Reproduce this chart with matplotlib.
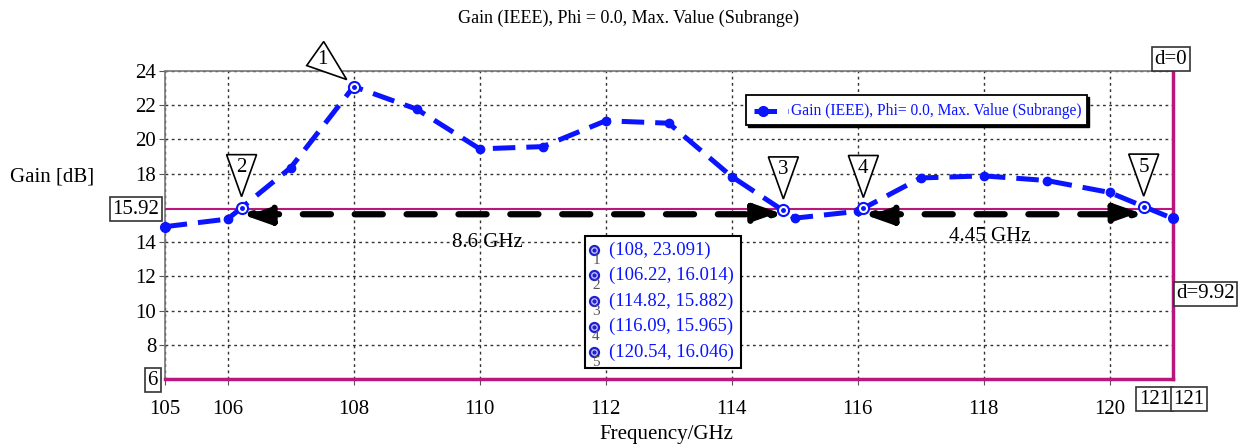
import matplotlib
matplotlib.use('Agg')
import matplotlib.pyplot as plt
from matplotlib.patches import Polygon, Rectangle
from matplotlib.transforms import ScaledTranslation, offset_copy

# ---------------- data ----------------
freq = [105, 106, 107, 108, 109, 110, 111, 112, 113, 114, 115, 116, 117, 118, 119, 120, 121]
gain = [14.9, 15.35, 18.35, 23.091, 21.77, 19.45, 19.58, 21.09, 20.95, 17.83, 15.4, 15.8,
        17.75, 17.87, 17.6, 16.9, 15.38]
marker_ids = ['1', '2', '3', '4', '5']
marker_x = [108, 106.22, 114.82, 116.09, 120.54]
marker_y = [23.091, 16.014, 15.882, 15.965, 16.046]
marker_txt = ['(108, 23.091)', '(106.22, 16.014)', '(114.82, 15.882)',
              '(116.09, 15.965)', '(120.54, 16.046)']
ref_level = 15.92
y_min_line = 6
x_end = 121
xticks = [105, 106, 108, 110, 112, 114, 116, 118, 120]
yticks = [8, 10, 12, 14, 18, 20, 22, 24]
bw_spans = [(106.22, 114.82, '8.6 GHz', 110.12, 14.0), (116.09, 120.54, '4.45 GHz', 118.1, 14.35)]

SERIF = ['Liberation Serif', 'DejaVu Serif']
plt.rcParams['font.family'] = SERIF
MAG = '#b8177c'
BLUE = '#0a14ff'
W, H = 1252, 448

fig = plt.figure(figsize=(W / 100, H / 100), dpi=100)
ax = fig.add_axes([164.7 / W, 1 - 379 / H, (1172.7 - 164.7) / W, (379 - 71) / H])
ax.set_xlim(105, 121)
ax.set_ylim(6, 24)

def fx(px):
    return px / W

def fy(py):
    return 1 - py / H

# grid
ax.set_xticks(xticks)
ax.set_yticks(yticks)
ax.set_xticklabels([str(t) for t in xticks], fontsize=15)
ax.set_yticklabels([str(t) for t in yticks], fontsize=15)
ax.grid(True, linestyle=(0, (2, 2.5)), color='#333333', linewidth=1.0)
ax.tick_params(length=4, color='#555555', pad=2)
ax.tick_params(axis='x', pad=11)
for s in ['top', 'left']:
    ax.spines[s].set_color('#777777')
    ax.spines[s].set_linewidth(1.2)
ax.spines['right'].set_visible(False)
ax.spines['bottom'].set_visible(False)

# reference lines
ax.axhline(ref_level, color=MAG, lw=1.5, zorder=3)
ax.axhline(y_min_line, color=MAG, lw=2.5, zorder=3, clip_on=False)
ax.axvline(x_end, color=MAG, lw=2.5, zorder=3, clip_on=False)

# main curve
ax.plot(freq, gain, color=BLUE, lw=3.6, dashes=(4.5, 2.2), marker='o', markersize=6,
        markevery=list(range(1, len(freq) - 1)), zorder=5, clip_on=False)
ax.plot([freq[0], freq[-1]], [gain[0], gain[-1]], 'o', color=BLUE, markersize=7, zorder=5, clip_on=False)

# markers
ax.plot(marker_x, marker_y, 'o', markersize=8, markerfacecolor='white', markeredgecolor=BLUE,
        markeredgewidth=1.5, zorder=7)
ax.plot(marker_x, marker_y, 'o', markersize=2.5, color=BLUE, zorder=8)

# triangle labels
for i, (lab, mx, my) in enumerate(zip(marker_ids, marker_x, marker_y)):
    t = fig.dpi_scale_trans + ScaledTranslation(mx, my, ax.transData)
    if i == 0:
        verts = [(-0.30, 0.45), (-0.47, 0.21), (-0.07, 0.07)]
        tx, ty = -0.31, 0.27
    else:
        verts = [(-0.15, 0.53), (0.15, 0.53), (0.0, 0.11)]
        tx, ty = 0.0, 0.40
    ax.add_patch(Polygon(verts, closed=True, facecolor='white', edgecolor='black', lw=1.2,
                         transform=t, zorder=9, clip_on=False))
    ax.text(tx, ty, lab, transform=t, ha='center', va='center', fontsize=15, zorder=10)

# bandwidth arrows
arrow_tr = offset_copy(ax.transData, fig=fig, x=0, y=-5, units='dots')
for x0, x1, txt, tx, ty in bw_spans:
    ax.annotate('', xy=(x1, ref_level), xytext=(x0, ref_level), xycoords=arrow_tr, textcoords=arrow_tr,
                arrowprops=dict(arrowstyle='<|-|>,head_length=1.7,head_width=0.6', color='black',
                                lw=4.5, linestyle=(0, (4.5, 3.8)), shrinkA=0, shrinkB=0), zorder=6)
    ax.text(tx, ty, txt, ha='center', va='center', fontsize=15, zorder=6)

# legend (drawn as box + handle + text in figure pixels)
legend_label = 'Gain (IEEE), Phi= 0.0, Max. Value (Subrange)'
fig.patches.append(Rectangle((fx(748), fy(127)), fx(1089) - fx(748), fy(97) - fy(127),
                             transform=fig.transFigure, facecolor='black', edgecolor='black', zorder=11))
fig.patches.append(Rectangle((fx(746), fy(125)), fx(1087) - fx(746), fy(95) - fy(125),
                             transform=fig.transFigure, facecolor='white', edgecolor='black',
                             lw=1.3, zorder=12))
fig.lines.append(plt.Line2D([fx(754), fx(788)], [fy(111), fy(111)], color=BLUE, lw=3.6, dashes=(4.5, 2.2),
                            transform=fig.transFigure, zorder=13))
fig.lines.append(plt.Line2D([fx(763)], [fy(111)], marker='o', markersize=7, color=BLUE,
                            transform=fig.transFigure, zorder=14))
fig.text(fx(791), fy(111), legend_label, fontsize=11.2, color=BLUE, ha='left', va='center', zorder=14)

# marker info box
fig.patches.append(Rectangle((fx(585), fy(368)), fx(741) - fx(585), fy(236) - fy(368),
                             transform=fig.transFigure, facecolor='white', edgecolor='black',
                             lw=1.5, zorder=20))
for i, (lab, txt) in enumerate(zip(marker_ids, marker_txt)):
    yy = 250 + i * 25.5
    fig.lines.append(plt.Line2D([fx(594)], [fy(yy)], marker='o', markersize=6.5, markerfacecolor='#c8c8ff',
                                markeredgecolor='#2020d0', markeredgewidth=1.6, transform=fig.transFigure,
                                zorder=21))
    fig.lines.append(plt.Line2D([fx(594)], [fy(yy)], marker='o', markersize=2, color='#2020d0',
                                transform=fig.transFigure, zorder=22))
    fig.text(fx(596), fy(yy + 10), lab, fontsize=11, color='#555555', ha='center', va='center', zorder=22)
    fig.text(fx(609), fy(yy), txt, fontsize=13.5, color=BLUE, ha='left', va='center', zorder=22)

# boxed labels
box = dict(boxstyle='square,pad=0.12', facecolor='white', edgecolor='#333333', lw=1.2)
fig.text(fx(159), fy(209), f'{ref_level:.2f}', fontsize=15, ha='right', va='center', bbox=box)
fig.text(fx(158), fy(380), '6', fontsize=15, ha='right', va='center', bbox=box)
fig.text(fx(1171), fy(59), 'd=0', fontsize=15, ha='center', va='center', bbox=box)
fig.text(fx(1176), fy(294), 'd=9.92', fontsize=15, ha='left', va='center', bbox=box)
fig.text(fx(1170), fy(399), '121', fontsize=15, ha='right', va='center', bbox=box)
fig.text(fx(1173), fy(399), '121', fontsize=15, ha='left', va='center', bbox=box)

# titles
fig.text(fx(628), fy(18), 'Gain (IEEE), Phi = 0.0, Max. Value (Subrange)', fontsize=13, ha='center', va='center')
fig.text(fx(52), fy(177), 'Gain [dB]', fontsize=15, ha='center', va='center')
fig.text(fx(666), fy(434), 'Frequency/GHz', fontsize=15, ha='center', va='center')

fig.savefig('out.png', dpi=100)
